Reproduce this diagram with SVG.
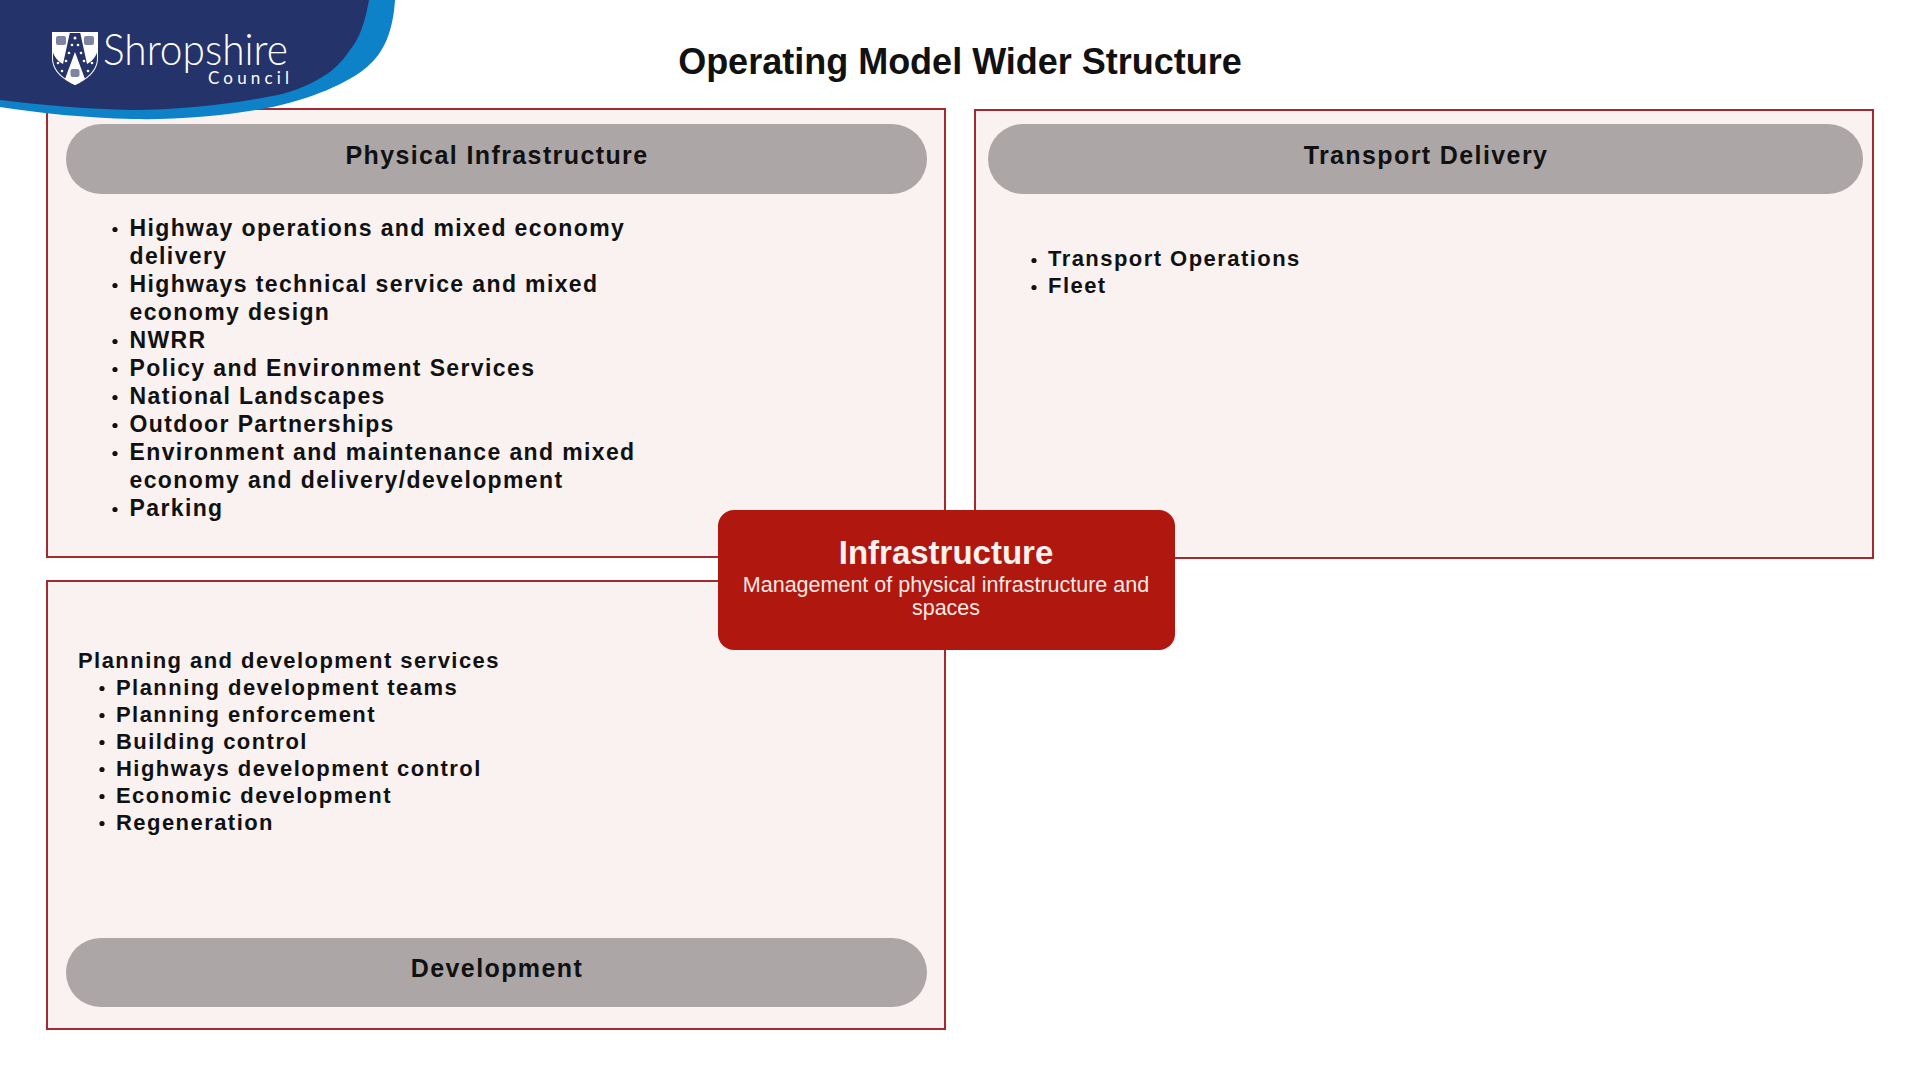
<svg xmlns="http://www.w3.org/2000/svg" width="1920" height="1080" viewBox="0 0 1920 1080">
<style>
text{font-family:"Liberation Sans",Arial,sans-serif;fill:#111}
.box{fill:#f9f2f1;stroke:#a32a2e;stroke-width:2}
.pill{fill:#aca6a6}
.h{font-size:25px;font-weight:700;letter-spacing:1.4px;text-anchor:middle}
.b{font-size:23px;font-weight:700;letter-spacing:1.38px}
.c{font-size:22px;font-weight:700;letter-spacing:1.45px}
.d{fill:#111}
.w{fill:#fff}
.f{fill:#7d84a0}
</style>
<rect width="1920" height="1080" fill="#fff"/>
<g id="node-physical">
<rect class="box" x="47" y="109" width="898" height="448"/>
<rect class="pill" x="66" y="124" width="861" height="70" rx="35"/>
<text class="h" x="497" y="164">Physical Infrastructure</text>
<circle class="d" cx="115" cy="229.500" r="2.600"/><text class="b" x="129.500" y="235.500">Highway operations and mixed economy</text>
<text class="b" x="129.500" y="263.500">delivery</text>
<circle class="d" cx="115" cy="285.500" r="2.600"/><text class="b" x="129.500" y="291.500">Highways technical service and mixed</text>
<text class="b" x="129.500" y="319.500">economy design</text>
<circle class="d" cx="115" cy="341.500" r="2.600"/><text class="b" x="129.500" y="347.500">NWRR</text>
<circle class="d" cx="115" cy="369.500" r="2.600"/><text class="b" x="129.500" y="375.500">Policy and Environment Services</text>
<circle class="d" cx="115" cy="397.500" r="2.600"/><text class="b" x="129.500" y="403.500">National Landscapes</text>
<circle class="d" cx="115" cy="425.500" r="2.600"/><text class="b" x="129.500" y="431.500">Outdoor Partnerships</text>
<circle class="d" cx="115" cy="453.500" r="2.600"/><text class="b" x="129.500" y="459.500">Environment and maintenance and mixed</text>
<text class="b" x="129.500" y="487.500">economy and delivery/development</text>
<circle class="d" cx="115" cy="509.500" r="2.600"/><text class="b" x="129.500" y="515.500">Parking</text>
</g>
<g id="node-transport">
<rect class="box" x="975" y="110" width="898" height="448"/>
<rect class="pill" x="988" y="124" width="875" height="70" rx="35"/>
<text class="h" x="1426" y="164">Transport Delivery</text>
<circle class="d" cx="1034" cy="260.500" r="2.600"/><text class="c" x="1048" y="266">Transport Operations</text>
<circle class="d" cx="1034" cy="287.500" r="2.600"/><text class="c" x="1048" y="293">Fleet</text>
</g>
<g id="node-development">
<rect class="box" x="47" y="581" width="898" height="448"/>
<rect class="pill" x="66" y="938" width="861" height="69" rx="34.500"/>
<text class="h" x="497" y="977">Development</text>
<text class="c" x="78" y="668">Planning and development services</text>
<circle class="d" cx="102" cy="688.500" r="2.600"/><text class="c" x="116" y="695">Planning development teams</text>
<circle class="d" cx="102" cy="715.500" r="2.600"/><text class="c" x="116" y="722">Planning enforcement</text>
<circle class="d" cx="102" cy="742.500" r="2.600"/><text class="c" x="116" y="749">Building control</text>
<circle class="d" cx="102" cy="769.500" r="2.600"/><text class="c" x="116" y="776">Highways development control</text>
<circle class="d" cx="102" cy="796.500" r="2.600"/><text class="c" x="116" y="803">Economic development</text>
<circle class="d" cx="102" cy="823.500" r="2.600"/><text class="c" x="116" y="830">Regeneration</text>
</g>
<g id="node-infrastructure">
<rect x="718" y="510" width="457" height="140" rx="16" fill="#b0170e"/>
<text x="946" y="564" font-size="33" font-weight="700" text-anchor="middle" style="fill:#fbf1ee">Infrastructure</text>
<text x="946" y="592" font-size="21.500" text-anchor="middle" style="fill:#fbe9e6">Management of physical infrastructure and</text>
<text x="946" y="615" font-size="21.500" text-anchor="middle" style="fill:#fbe9e6">spaces</text>
</g>
<g id="title"><text x="960" y="74" font-size="36" font-weight="700" text-anchor="middle">Operating Model Wider Structure</text></g>
<g id="logo">
<path d="M0 0H395C393 30 385 52 367 67C350 82 310 100 267 108C225 116 175 120 133 119C85 118 40 113 0 107Z" fill="#0e82c8"/>
<path d="M0 0H369C365 22 360 38 350 50C340 65 330 73 317 80C300 90 280 95 267 97C225 105 175 110 133 110C85 109 40 105 0 100Z" fill="#25336b"/>
<path d="M52 32H98V58C98 72 86 80 75 85C64 80 52 72 52 58Z" fill="#fff"/>
<path d="M53 33H97V58C97 71 86 79 75 84C64 79 53 71 53 58Z" fill="#25336b"/>
<path d="M52 32H70L63 64C56 60 52 54 52 46Z" class="w"/>
<path d="M80 32H98V46C98 54 94 60 87 64Z" class="w"/>
<path d="M75 52L85 79C81 82 78 84 75 85C72 84 69 82 65 79Z" class="w"/>
<rect class="f" x="56" y="36" width="10" height="9" rx="2"/><rect class="f" x="84" y="36" width="10" height="9" rx="2"/><rect class="f" x="70.500" y="69" width="9" height="8" rx="2"/>
<g class="w"><circle cx="75" cy="38" r="1.500"/><circle cx="72" cy="45" r="1.300"/><circle cx="78" cy="45" r="1.300"/><circle cx="69" cy="53" r="1.300"/><circle cx="81" cy="53" r="1.300"/><circle cx="66" cy="61" r="1.300"/><circle cx="84" cy="61" r="1.300"/><circle cx="58" cy="63" r="1.300"/><circle cx="92" cy="63" r="1.300"/><circle cx="62" cy="71" r="1.300"/><circle cx="88" cy="71" r="1.300"/></g>
<text x="103" y="65" font-size="44" textLength="185" lengthAdjust="spacingAndGlyphs" style="font-family:Lato,sans-serif;font-weight:300;fill:#fff">Shropshire</text>
<text x="208" y="84" font-size="17" textLength="81" style="font-family:Lato,sans-serif;fill:#fff">Council</text>
</g>
</svg>
